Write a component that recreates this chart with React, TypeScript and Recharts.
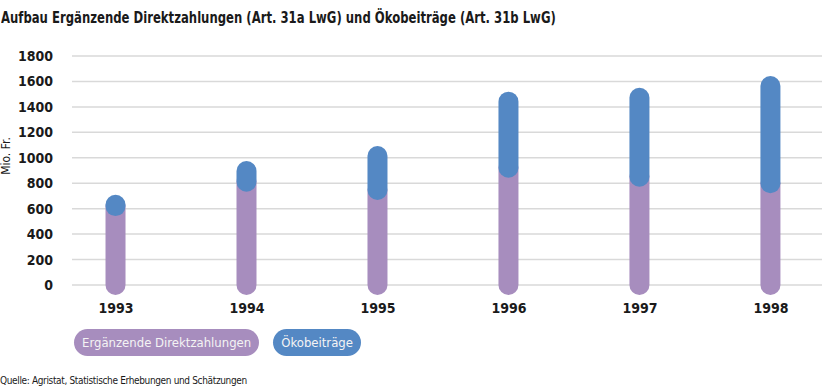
import React from "react";
import { BarChart, Bar, XAxis, YAxis, CartesianGrid } from "recharts";

// Werte in Mio. Fr.
const YEARS = [1993, 1994, 1995, 1996, 1997, 1998];
const ERGAENZENDE = [620, 812, 747, 922, 851, 800];
const OEKO = [10, 84, 267, 519, 621, 764];
const Y_TICKS = [0, 200, 400, 600, 800, 1000, 1200, 1400, 1600, 1800];

const SERIES = [
  { key: "erg", label: "Ergänzende Direktzahlungen", color: "#a78dbe" },
  { key: "oeko", label: "Ökobeiträge", color: "#5488c4" },
];

const data = YEARS.map((year, i) => ({ year, erg: ERGAENZENDE[i], oeko: OEKO[i] }));

const FONT = "'Liberation Sans Narrow', 'DejaVu Sans Condensed', sans-serif";
const TEXT = "#1a1a1a";

// Balken als Linie mit runden Enden zeichnen
function Capsule(props: any) {
  const { x, y, width, height, fill } = props;
  if (x == null || y == null || !width) return null;
  const cx = x + width / 2;
  return (
    <line
      x1={cx}
      x2={cx}
      y1={y + height}
      y2={y}
      stroke={fill}
      strokeWidth={width}
      strokeLinecap="round"
    />
  );
}

export default function App() {
  return (
    <div
      style={{
        position: "absolute",
        left: 0,
        top: 0,
        width: 836,
        height: 390,
        background: "#fff",
        fontFamily: FONT,
        color: TEXT,
      }}
    >
      <div
        style={{
          position: "absolute",
          left: 1,
          top: 8,
          fontSize: 16,
          fontWeight: 700,
          lineHeight: "20px",
          whiteSpace: "nowrap",
          transform: "scaleX(0.81)",
          transformOrigin: "left center",
        }}
      >
        Aufbau Ergänzende Direktzahlungen (Art. 31a LwG) und Ökobeiträge (Art. 31b LwG)
      </div>

      <div
        style={{
          position: "absolute",
          left: 6,
          top: 156,
          fontSize: 12,
          whiteSpace: "nowrap",
          transform: "translate(-50%, -50%) rotate(-90deg)",
        }}
      >
        Mio. Fr.
      </div>

      <BarChart width={836} height={390} data={data} margin={{ top: 56, right: 14, bottom: 75, left: 12 }}>
        <CartesianGrid vertical={false} stroke="#d9d9d9" strokeWidth={1.5} />
        <XAxis
          dataKey="year"
          type="number"
          domain={[1992.664, 1998.39]}
          ticks={YEARS}
          axisLine={false}
          tickLine={false}
          tickSize={0}
          tickMargin={18}
          height={30}
          tick={{ fontSize: 14, fontWeight: 700, fill: TEXT, fontFamily: FONT }}
        />
        <YAxis
          domain={[0, 1800]}
          ticks={Y_TICKS}
          axisLine={false}
          tickLine={false}
          tickSize={0}
          tickMargin={19}
          width={60}
          tick={{ fontSize: 14, fontWeight: 700, fill: TEXT, fontFamily: FONT }}
        />
        {SERIES.map((s) => (
          <Bar
            key={s.key}
            dataKey={s.key}
            name={s.label}
            stackId="a"
            fill={s.color}
            barSize={20}
            shape={<Capsule />}
            isAnimationActive={false}
          />
        ))}
      </BarChart>

      <div style={{ position: "absolute", left: 74, top: 329, display: "flex", gap: 14 }}>
        {SERIES.map((s) => (
          <div
            key={s.key}
            style={{
              background: s.color,
              color: "#f4f4f4",
              height: 27,
              lineHeight: "27px",
              borderRadius: 14,
              padding: "0 8px",
              fontSize: 13,
              whiteSpace: "nowrap",
            }}
          >
            {s.label}
          </div>
        ))}
      </div>

      <div style={{ position: "absolute", left: 0, top: 375, fontSize: 10, letterSpacing: -0.35, whiteSpace: "nowrap" }}>
        Quelle: Agristat, Statistische Erhebungen und Schätzungen
      </div>
    </div>
  );
}
